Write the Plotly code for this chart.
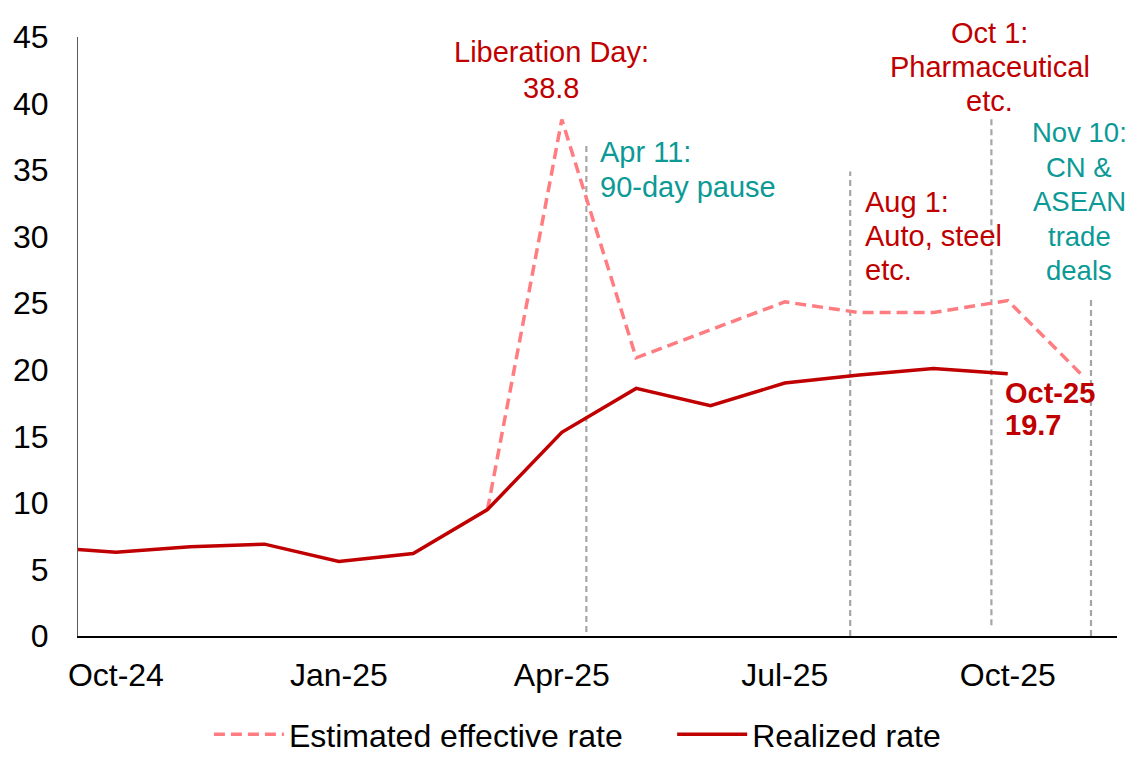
import plotly.graph_objects as go

# Month categories; index 0 = Oct-24 (Sep-24 sits just left of the visible range)
months = ["Sep-24", "Oct-24", "Nov-24", "Dec-24", "Jan-25", "Feb-25", "Mar-25", "Apr-25",
          "May-25", "Jun-25", "Jul-25", "Aug-25", "Sep-25", "Oct-25", "Nov-25"]
month_pos = list(range(-1, len(months) - 1))

realized = [6.7, 6.3, 6.7, 6.9, 5.6, 6.2, 9.5, 15.3, 18.6, 17.3, 19.0, 19.6, 20.1, 19.7, None]
estimated = [None, None, None, None, None, None, 9.5, 38.8, 20.9, 23.0, 25.1, 24.3, 24.3, 25.2, 19.6]

tick_labels = ["Oct-24", "Jan-25", "Apr-25", "Jul-25", "Oct-25"]
tick_pos = [month_pos[months.index(t)] for t in tick_labels]

Y_MAX = 45

# Policy event markers (month-index position, top / bottom of the dashed guide)
event_x = [6.33, 9.88, 11.78, 13.12]
event_top = [37.1, 34.9, 39.0, 25.5]
event_bottom = [0.3, 0.0, 0.8, 0.0]

# Annotation texts (one entry per line)
note_liberation = ["Liberation Day:", "38.8"]
note_apr11 = ["Apr 11:", "90-day pause"]
note_aug1 = ["Aug 1:", "Auto, steel", "etc."]
note_oct1 = ["Oct 1:", "Pharmaceutical", "etc."]
note_nov10 = ["Nov 10:", "CN &", "ASEAN", "trade", "deals"]
note_last = ["Oct-25", "19.7"]

RED = "#C00000"
PINK = "#FF7C80"
TEAL = "#0B9A96"
GREY = "#A6A6A6"
FONT = "Arial, Liberation Sans, sans-serif"
NBSP = "\u00a0"

fig = go.Figure()

for ex, et, eb in zip(event_x, event_top, event_bottom):
    fig.add_trace(go.Scatter(x=[ex, ex], y=[eb, et], mode="lines",
                             line=dict(color=GREY, width=2.2, dash="6px,4px"),
                             showlegend=False, hoverinfo="skip"))

fig.add_trace(go.Scatter(x=month_pos, y=estimated, mode="lines",
                         name="Estimated effective rate" + NBSP * 5,
                         line=dict(color=PINK, width=3.5, dash="11px,6px"), connectgaps=False))
fig.add_trace(go.Scatter(x=month_pos, y=realized, mode="lines", name="Realized rate",
                         line=dict(color=RED, width=3.5)))

blocks = [
    dict(lines=note_liberation, x=5.855, y0=43.88, step=2.7, color=RED, xanchor="center", size=29, bold=False),
    dict(lines=note_apr11, x=6.49, y0=36.36, step=2.6, color=TEAL, xanchor="left", size=29, bold=False),
    dict(lines=note_aug1, x=10.05, y0=32.6, step=2.56, color=RED, xanchor="left", size=29, bold=False),
    dict(lines=note_oct1, x=11.76, y0=45.3, step=2.55, color=RED, xanchor="center", size=29, bold=False),
    dict(lines=note_nov10, x=12.96, y0=37.79, step=2.59, color=TEAL, xanchor="center", size=27.5, bold=False),
    dict(lines=note_last, x=11.94, y0=18.26, step=2.41, color=RED, xanchor="left", size=29, bold=True),
]
for b in blocks:
    for i, line in enumerate(b["lines"]):
        txt = f"<b>{line}</b>" if b["bold"] else line
        fig.add_annotation(x=b["x"], y=(b["y0"] - i * b["step"]) / Y_MAX, xref="x", yref="paper",
                           text=txt, showarrow=False, xanchor=b["xanchor"], yanchor="middle",
                           font=dict(family=FONT, size=b["size"], color=b["color"]))

fig.update_layout(
    width=1133, height=771,
    margin=dict(l=70, r=24, t=29, b=143, autoexpand=False),
    paper_bgcolor="white", plot_bgcolor="white",
    font=dict(family=FONT, color="black"),
    showlegend=True,
    legend=dict(orientation="h", x=0.126, xanchor="left", y=-0.1185, yanchor="top",
                font=dict(family=FONT, size=32, color="black"), itemwidth=70,
                traceorder="normal"),
    xaxis=dict(range=[-0.51, 13.47], tickmode="array", tickvals=tick_pos, ticktext=tick_labels,
               showgrid=False, zeroline=False, showline=True, linecolor="black", linewidth=1.5,
               ticks="outside", ticklen=10, tickcolor="rgba(0,0,0,0)", automargin=False,
               tickfont=dict(family=FONT, size=32, color="black")),
    yaxis=dict(range=[0, Y_MAX], tickmode="array", tickvals=list(range(0, Y_MAX + 5, 5)),
               showgrid=False, zeroline=False, showline=True, linecolor="#595959", linewidth=1.2,
               ticks="outside", ticklen=22, tickcolor="rgba(0,0,0,0)", automargin=False,
               tickfont=dict(family=FONT, size=32, color="black")),
)

fig.write_html("out.html")
